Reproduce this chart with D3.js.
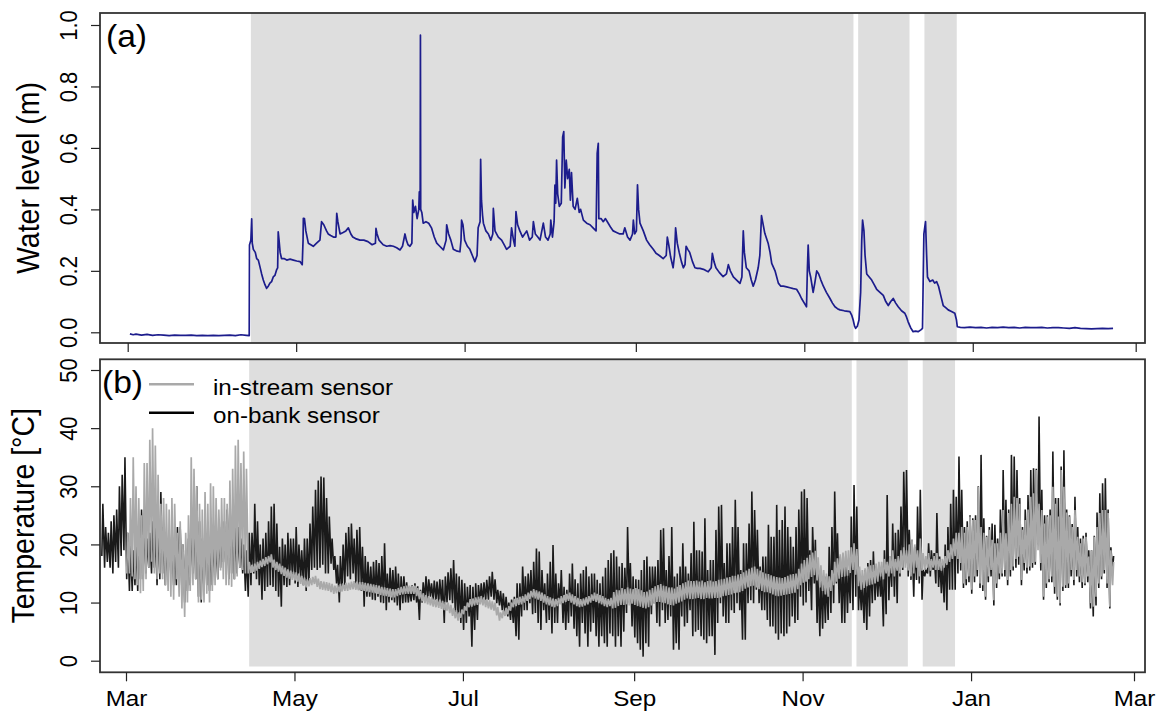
<!DOCTYPE html>
<html>
<head>
<meta charset="utf-8">
<script src="https://cdn.jsdelivr.net/npm/d3@7"></script>
<style>
  body { margin: 0; background: #fff; }
  text { font-family: "Liberation Sans", Arial, sans-serif; fill: #000; }
</style>
</head>
<body>
<div id="chart"></div>
<script>
// day numbers count from 1 March 2017 (day 0)
var monthTicks = ["2017-03-01", "2017-05-01", "2017-07-01", "2017-09-01", "2017-11-01", "2018-01-01", "2018-03-01"];
var monthLabels = ["Mar", "May", "Jul", "Sep", "Nov", "Jan", "Mar"];
var levelTicks = [0, 0.2, 0.4, 0.6, 0.8, 1.0];
var tempTicks = [0, 10, 20, 30, 40, 50];

// shaded periods (start / end day)
var shadeStart = [44.6, 264.5, 288.5];
var shadeEnd = [262.8, 283.1, 300.2];

// water level (m): [day, level]
var waterLevel = [[0.8,-0.005],[2,-0.008],[3,-0.006],[5,-0.009],[7,-0.007],[9,-0.010],[11,-0.008],[13,-0.009],[15,-0.011],[17,-0.009],
  [19,-0.010],[21,-0.010],[23,-0.009],[25,-0.011],[27,-0.010],[29,-0.011],[31,-0.010],[33,-0.011],[35,-0.010],[37,-0.009],
  [39,-0.011],[41,-0.008],[43,-0.010],[44,-0.011],[44.1,0.284],[44.6,0.30],[44.9,0.369],[45.1,0.29],[45.5,0.27],[46.2,0.26],
  [46.7,0.24],[47.3,0.235],[47.9,0.213],[48.5,0.19],[49.1,0.17],[49.7,0.155],[50.3,0.143],[50.9,0.15],[51.5,0.16],[52.1,0.165],
  [52.7,0.18],[53.3,0.185],[53.9,0.203],[54.3,0.21],[54.5,0.327],[54.8,0.30],[55.2,0.26],[55.7,0.24],[56.6,0.24],[57.6,0.235],
  [58.8,0.238],[60,0.235],[61.2,0.232],[62.4,0.23],[63.2,0.22],[63.5,0.30],[63.6,0.371],[64,0.37],[64.5,0.33],[65.4,0.29],
  [66.3,0.285],[67.2,0.28],[68.4,0.29],[69.6,0.30],[69.9,0.33],[70.2,0.36],[71,0.35],[72,0.33],[72.6,0.32],[73.5,0.315],
  [74.5,0.31],[75.4,0.31],[75.7,0.387],[76.1,0.36],[76.9,0.32],[78,0.325],[79,0.33],[79.9,0.34],[80.8,0.32],[81.5,0.31],
  [82.5,0.305],[84.1,0.30],[85.5,0.30],[87,0.295],[88.5,0.285],[89.7,0.29],[89.9,0.338],[90.3,0.32],[91,0.30],[92.5,0.285],
  [93.8,0.28],[95,0.282],[96.2,0.28],[97.4,0.275],[98.6,0.268],[99.5,0.28],[100.4,0.32],[100.9,0.30],[101.5,0.285],[102.2,0.28],
  [102.9,0.29],[103.2,0.43],[103.6,0.39],[104.2,0.41],[104.8,0.37],[105.4,0.40],[105.6,0.457],[105.9,0.40],[106.0,0.967],[106.1,0.40],
  [106.5,0.39],[107,0.355],[108,0.36],[109,0.355],[110,0.34],[111,0.31],[111.9,0.29],[113,0.28],[114.3,0.268],[115.3,0.30],
  [115.5,0.35],[116.2,0.32],[117,0.30],[117.9,0.27],[119,0.265],[120.3,0.262],[120.7,0.30],[120.9,0.365],[121.4,0.35],[122,0.30],
  [123,0.28],[123.9,0.27],[124.8,0.25],[125.7,0.23],[126.5,0.25],[126.9,0.34],[127.6,0.36],[127.8,0.563],[128.1,0.43],[128.5,0.38],
  [128.8,0.355],[129.7,0.33],[130.6,0.32],[131.5,0.30],[132.2,0.32],[132.4,0.403],[133,0.33],[134.2,0.31],[135.4,0.30],[136.3,0.285],
  [137.2,0.27],[138.5,0.28],[139,0.34],[139.7,0.30],[140.2,0.28],[140.6,0.393],[141.2,0.35],[142,0.33],[143,0.31],[144.5,0.33],
  [145.5,0.30],[146.5,0.31],[146.9,0.36],[147.6,0.32],[148.5,0.31],[149.3,0.30],[150.5,0.355],[151.3,0.31],[152.2,0.30],[153,0.32],
  [153.2,0.365],[153.8,0.31],[154.4,0.36],[154.7,0.479],[155,0.42],[155.3,0.56],[155.7,0.45],[156.3,0.41],[157,0.42],[157.5,0.636],
  [157.9,0.653],[158.3,0.47],[158.8,0.56],[159.3,0.50],[159.9,0.53],[160.3,0.43],[160.7,0.52],[161.3,0.41],[162,0.40],[162.8,0.436],
  [163.5,0.39],[164,0.40],[165,0.365],[166.2,0.355],[167.4,0.35],[168.5,0.34],[169.6,0.33],[170,0.582],[170.4,0.615],[170.6,0.37],
  [171.4,0.37],[172.2,0.36],[173,0.37],[174,0.355],[175,0.34],[175.8,0.33],[177,0.325],[178.2,0.32],[179.4,0.32],[180,0.34],
  [181,0.31],[181.9,0.30],[182.8,0.32],[183.1,0.365],[183.6,0.32],[184.2,0.33],[184.6,0.48],[185,0.40],[185.5,0.355],[186.7,0.33],
  [187.9,0.30],[189,0.285],[190.3,0.27],[191.3,0.257],[192.5,0.25],[193.9,0.24],[195,0.25],[195.4,0.31],[196,0.28],[196.6,0.245],
  [197.5,0.21],[198,0.25],[198.4,0.34],[199,0.29],[199.7,0.26],[200.5,0.23],[201.2,0.21],[201.8,0.22],[202.2,0.28],[202.8,0.27],
  [203.5,0.26],[204.5,0.23],[205.4,0.21],[206.3,0.208],[207.2,0.208],[208.5,0.205],[209.5,0.20],[210.2,0.197],[211.3,0.21],[211.7,0.257],
  [212.3,0.23],[213,0.21],[214.2,0.195],[215.6,0.181],[216.8,0.19],[217.5,0.22],[218.2,0.20],[219.3,0.18],[220.5,0.17],[221.7,0.159],
  [222.4,0.18],[222.9,0.33],[223.3,0.26],[224,0.21],[225,0.20],[225.8,0.17],[226.5,0.15],[227.3,0.17],[228.3,0.21],[228.9,0.25],
  [229.5,0.38],[229.9,0.36],[230.7,0.322],[231.9,0.29],[232.6,0.26],[233.2,0.224],[234.4,0.20],[235.6,0.16],[236.5,0.15],[237.4,0.15],
  [238.6,0.148],[239.8,0.145],[241,0.142],[242.2,0.14],[243.2,0.125],[244,0.11],[245,0.095],[245.8,0.083],[246.1,0.20],[246.4,0.284],
  [246.8,0.20],[247.3,0.18],[248.2,0.13],[248.8,0.16],[249.5,0.20],[250.2,0.19],[251,0.17],[251.9,0.15],[253,0.13],[254.3,0.11],
  [255.2,0.095],[256.1,0.083],[257,0.077],[257.9,0.073],[259.5,0.07],[261.5,0.067],[262.2,0.055],[262.7,0.04],[263.2,0.02],[263.6,0.013],
  [264.2,0.02],[264.8,0.04],[265.4,0.13],[265.8,0.30],[266.1,0.365],[266.6,0.33],[267,0.25],[267.6,0.19],[268.5,0.18],[269.4,0.17],
  [270.3,0.155],[271.2,0.14],[272.4,0.13],[273.6,0.12],[274.5,0.10],[275.4,0.087],[276.3,0.10],[277.2,0.11],[278.1,0.095],[279,0.083],
  [280.2,0.07],[281.4,0.062],[282,0.05],[282.6,0.034],[283.5,0.015],[284.4,0.002],[285.3,0.004],[286.2,0.002],[287.2,0.008],[287.8,0.013],
  [288.1,0.20],[288.3,0.32],[288.9,0.36],[289.3,0.25],[289.6,0.18],[290.5,0.165],[291.5,0.17],[292.2,0.16],[292.9,0.165],[293.6,0.15],
  [294.4,0.12],[295.3,0.087],[296.2,0.08],[297.1,0.073],[298.3,0.068],[299.5,0.062],[300.1,0.04],[300.4,0.018],[301.5,0.016],[303,0.015],
  [305,0.017],[307,0.015],[309,0.016],[311,0.014],[313,0.016],[315,0.015],[317,0.017],[319,0.015],[321,0.016],[323,0.014],
  [325,0.016],[327,0.015],[329,0.015],[331,0.016],[333,0.014],[335,0.015],[337,0.015],[339,0.014],[341,0.013],[343,0.015],
  [345,0.013],[347,0.012],[349,0.011],[351,0.012],[353,0.013],[355,0.012],[356.8,0.013]];

// on-bank sensor, daily max / min (deg C), from day -9
var bankStart = -9;
var bankHi = [27,23,22,24,25,26,30,32,35,
  22,20,19,21,23,26,25,21,22,24, 23,25,29,23,21,22,21,20,23,23, 20,19,21,25,26,30,24,21,23,22, 20,21,20,22,23,24,26,28,25,24, 23,21,20,19,22,
  22,27,24,20,21,22,24,26.5,27,23.6, 19.6,21,20,22,21,21,23,20,19,21, 21,23.6,26.5,29.4,31,31.7,31.5,28,24.8,21, 18,16.5,18,20,22,23,23.6,21,22.5,23,
  19.6,18,17,16.2,17,17.3,16.8,18,20.2,15, 16,15.6,16.2,15,14.5,14.5,13.5,12.7,13,13.3, 12.8,12.2,13.5,14.5,14,13.3,13.8,13.6,14,13.9,
  14.5,15.2,15.9,17.3,15,14.5,13.9,13.3,12.7,13, 12.7,13.3,13,13.3,13.5,13.9,14.5,15.3,14,12.2, 12,11.6,11,10,10.5,11,13.3,13.3,16.2,14.5,
  15,15.6,17,19.3,18.8,15.6,13.3,15,17,19.9, 15,13.3,15.6,12.7,12.2,15,16.7,14,13.3,15, 15.6,16.2,14.5,15,15,13.9,13.3,14.5,16,17.3,
  18.5,19,17.9,16.2,16.8,16,23,16.8,14.5,14, 13.9,15.6,17.3,17.9,16.2,16.2,16.2,17.3,22.5,22.8, 15.6,18,23,14.5,15,16.2,20.2,16.2,15,18.5,
  23.9,19,19,18.8,24.5,15.6,17.3,17.3,22.5,26.5, 26.8,16.8,20.2,20.2,23,27.7,23,15.6,20.2,20.2, 23.6,29.1,25.9,22.5,16.2,17.9,17.9,23.4,21.3,21.3,
  26.8,22.5,24.2,26.5,23,21.3,19.6,23,26,29.1, 29.5,28,19,23,20.8,15.6,14.5,14.5,14.5,19.6, 23,29.1,21.9,17.9,17.9,17.9,15.6,24.8,30.2,26.5,
  14,13.9,15.6,16.8,17.3,18.8,16.2,15.6,
  15.6,19,28.5,17.9,23.6,22,22.5,26.5,32.5,32.8, 22.5,20.8,19.6,26.5,29.4,15.6,15.6,20.2,19,18.5, 25.4,17.9,16.8,20,23,27,29.4,
  28.2,35.1,29.4,23,24,25,24.5,25,30,35.4, 24.5,21.5,23,23.6,23.4,21,26,32.8,27.7,26, 35.4,35.1,32.8,28,23,26,28.5,32.8,33.1,33,
  42,29.4,25,25,26,36,28,28,33.4,36.2, 26,25,23.5,28.2,23,21,21.5,22,19,19, 21.5,25.5,28.8,30.5,31.4,26,19.5,18];
var bankLo = [18,16,17,16,15,17,16,18,19,
  14,12,12,13,12,14,14,15,16,15, 16,13,14,15,13,14,15,13,13,14, 12,10,12,13,15,14,11,10,12,13, 12,13,15,14,16,17,15,14,15,14, 15,16,15,12,11,
  13,15,14,13,10.5,12,12.7,13,12.7,12, 11,9.3,13,12.7,13,14.5,13.3,12.7,14,13, 12,13.3,15.6,16,15.6,16,16.5,15,15,16.7, 15.6,13.3,10,12,13,14.5,14,15,13.3,12.2,
  12,9.3,11,11,10.5,10.4,11,10,9.9,8.7, 10,10.4,10,9.5,8.7,9.9,10,10,10.2,10.4, 10,7,10,10.5,10.4,11,10.5,10.4,10,9.9,
  6.5,10,10.4,9.9,8.2,7,6.5,5.3,6.5,7.6, 2.4,5.3,7,9.9,10,10.4,10.5,11,10.5,9.9, 9.5,8.7,8,7.6,7,6.5,4.2,3.6,7.6,8.7,
  8.7,9.9,8,8.2,6.5,5.3,8.7,6.5,7,4.7, 6.5,6.5,9.9,6.5,5.3,6.5,7.6,5.5,4.2,2.4, 6.5,4.7,2.4,5,6.5,4.2,2.4,4.2,3,2.4,
  4.7,4.2,2.4,4.2,2.4,5,8.2,10,5.9,4, 3,1.9,0.7,3,2.4,8,9.9,6.5,5.9,8.7, 6.5,7,7.6,1.9,3,1.9,7.6,5.9,6.5,8.7,
  4.2,5,5.3,4.2,3.6,3,4.2,4.2,1,6.5, 9.9,7.6,6.5,6.5,8.7,8.2,9.9,8.7,3.6,3.6, 9.9,10.4,9.9,12.2,9.9,8.7,8.7,7,5.9,5.9,
  4.7,3.6,4.7,4.2,4.7,5.9,7.6,6.5,7,11, 9.5,10,12,8.7,13.3,6.5,4.2,5.5,6.5,7, 8.2,9.9,13.3,9.9,6.5,6.5,8.2,9.9,8.7,11,
  8.7,8.7,6.5,5.3,7.6,9.9,10.4,11,
  11,5.9,8,10.4,12.7,11,9.9,14.5,15.6,17.9, 14.5,13.9,11,13.9,13.3,10.5,14.5,15,14.5,15.6, 13.3,12.7,11.6,10,8.7,12.2,12.2,
  12.2,15,15.5,12.5,13,13.5,11.5,13.5,14.5,12.5, 12,10.5,13.5,14.5,9.5,12.5,14,14.5,14.5,13, 14.5,15.5,16,16.5,13,15.5,15,15.5,16,16.5,
  20,15.5,10.5,12.5,13.5,13.5,11.5,10.5,9.5,12, 12.5,12.5,14.5,13,14.5,13.5,12.5,13,13.5,9, 7.6,9.5,12.5,14,15,12.5,9,15.5];

// in-stream sensor, daily max / min (deg C), from day 0
var streamStart = 0;
var streamHi = [22,28,35,30,28,25,34,34,38,40, 37,32,27,28,27,26,28,27,22,24, 20,22,25,35,33,30,27,26,29,27, 30.5,30,28,26,28,28,27,31,33,37, 38,34,36,33,17,
  16.5,16.7,17,17.2,17.5,17.8,18,18.3,17.4,17, 16.7,16.3,16,15.7,15.5,15.3,15.2,15,14.6,14.3, 14,14.2,14.4,14.6,14.1,13.7,13.6,13.5,13.4,13.2,
  12.9,13,13.2,13.3,13.4,13.4,13.6,13.7,13.6,13.5, 13.5,13.4,13.3,13.2,13.1,13,12.9,12.7,12.6,12.5, 12.4,12.3,12.3,12.5,12.7,12.8,12.9,12.9,12.9,12.9,
  12.5,12,11.6,11.3,11.1,10.9,10.7,10.6,10.5,10.3, 10.1,10,9.6,9.1,8.7,8.3,8.8,9.4,10,10.6, 10.7,10.9,11,11.1,10.9,10.6,10.4,10.2,10,9.2,
  8.3,8.7,9.1,9.4,10,10.6,10.8,11,11.1,11.4, 11.7,12,12.3,12.1,11.9,11.7,11.4,11.1,10.9,10.7, 10.6,10.8,11.1,11.3,11.5,11.7,11.4,11.1,10.8,10.6,
  10.7,10.9,11.1,11.4,11.7,11.5,11.3,11.1,10.8,10.6, 10.8,
  11.8,12.2,12.1,12.5,12.3,12.6,12.4,12.3,12.5, 12.3,12.1,11.8,11.9,12.2,12.5,12.8,13,13.2,12.9, 12.8,12.6,12.6,12.4,12.7,13,13.3,13.5,13.8,13.7,
  13.7,13.8,13.6,13.8,13.5,13.7,13.8,13.6,13.7,13.9, 14,14.1,14.3,14.4,14.6,14.6,14.8,14.9,15.2,15.5, 15.8,16,16.2,15.8,15.5,15.2,15,14.9,14.7,14.5,
  14.4,14.3,14.2,14.4,14.6,14.8,14.9,15,15.8,16.7, 17.3,17.7,18.2,18.6,18.9,17.8,16.4,15.6,15,14.5, 15.6,17,17.6,18.3,18.6,18.9,19,19.5,20.2,19.2,
  16.2,15.6,15.9,16.2,16.4,16.5,16.7,17,
  17,17.5,17,18,19,17.5,18,19,19.5,19, 20,20.8,20,19,21,18.5,18,18.5,17.5,18, 18.5,17.5,17.5,18,19,20,21,22,
  22,23,22,23,24.8,24.2,24.2,29.9,23,22, 21.3,22.5,20.8,20.2,20.2,22,25.9,21.9,25.4,27, 28.2,28,27,22.5,24.2,26,28.2,28.8,32.8,27,
  25.9,23.6,24.8,25,29.9,27,24.8,32.8,29.9,25.5, 24.8,23,25.9,21.3,20.2,21,21.3,17.9,19,21.3, 23,25.4,25.9,25.9,25.4,19,17];
var streamLo = [15,15,14.5,14,13,11.6,12,14,16,17, 15,14,15,14,13,12,11,10.5,14,11, 9,7.5,10,12,13,14,10,10.5,10,11.5, 10,12,13,14,15.5,14,13,13,12.7,14, 14.5,16,15.6,15,15,
  15.1,15.3,15.5,15.8,16.1,16.3,16.6,16.9,16,15.6, 15.3,14.9,14.6,14.3,14.1,13.9,13.8,13.6,13.2,12.9, 12.6,12.8,13,13.2,12.7,12.3,12.2,12.1,12,11.8,
  11.5,11.6,11.8,11.9,12,12,12.2,12.3,12.2,12.1, 12.1,12,11.9,11.8,11.7,11.6,11.5,11.3,11.2,11.1, 11,10.9,10.9,11.1,11.3,11.4,11.5,11.5,11.5,11.5,
  11.1,10.6,10.2,9.9,9.7,9.5,9.3,9.2,9.1,8.9, 8.7,8.6,8.2,7.7,7.3,6.9,7.4,8,8.6,9.2, 9.3,9.5,9.6,9.7,9.5,9.2,9,8.8,8.6,7.8,
  6.9,7.3,7.7,8,8.6,9.2,9.4,9.6,9.7,10, 10.3,10.6,10.9,10.7,10.5,10.3,10,9.7,9.5,9.3, 9.2,9.4,9.7,9.9,10.1,10.3,10,9.7,9.4,9.2,
  9.3,9.5,9.7,10,10.3,10.1,9.9,9.7,9.4,9.2, 9.4,
  9,9.1,9.4,9.6,9.6,9.7,9.5,9.8,9.6, 9.4,9.3,9.1,9,9.2,9.5,9.8,10.1,10.1,10, 9.9,9.7,9.6,9.5,9.8,10,10.2,10.5,10.7,10.6,
  10.6,10.7,10.8,10.6,10.6,10.8,10.7,10.7,10.8,10.8, 10.9,11.1,11.2,11.3,11.4,11.6,11.7,11.8,12,12.4, 12.6,12.8,12.9,12.6,12.3,12,11.8,11.8,11.6,11.4,
  11.2,11.1,11.2,11.3,11.4,11.5,11.6,11.7,12.3,13, 13.4,13.6,14,14.4,14.7,13.8,12.6,12,11.4,11, 12,13,13.6,14.1,14.4,14.5,14.6,15.1,15.6,14.8,
  12.8,12.2,12.5,12.8,13,13.1,13.3,13.6,
  14.5,14,15,14.5,15,14.5,15.5,15,16,16, 15.5,14.5,15,16,14.5,15.5,15.6,16,15.5,16, 15.6,15.6,15.5,16,16.5,17,17.5,18,
  17.5,16.8,13.3,14,14.5,12.2,14.5,15.6,13.3,13, 11,14.5,15.6,10.4,13.3,15,15,15.6,13.9,15.6, 16.2,17.5,17.9,13.9,16.8,16,16.2,16.8,17,19,
  16.8,11,13.3,14,14.5,12.7,11,9.9,12.7,13, 13.3,15.6,13.9,15.6,14.5,13.5,13.3,14.5,9.9,9.3, 11,13.3,14.5,15.6,13.3,9.3,13];

// ---------------------------------------------------------------
var W = 1161, H = 713;
var plotL = 100, plotR = 1145;
var top1 = 13, bot1 = 343;
var top2 = 359.3, bot2 = 672.3;
var stretch = 1.1;   // the original picture is a little wider than tall

var base = Date.UTC(2017, 2, 1);
function toDate(d) { return new Date(base + d * 864e5); }
var tickDates = monthTicks.map(function(s) { return new Date(s + "T00:00:00Z"); });

var xTop = d3.scaleUtc().domain([toDate(0), toDate(365)]).range([127.7, 1135.7]);
var xBot = d3.scaleUtc().domain([toDate(0), toDate(365)]).range([126, 1134]);
var yTop = d3.scaleLinear().domain([0, 1]).range([332.3, 25]);
var yBot = d3.scaleLinear().domain([0, 50]).range([660.7, 370]);

var svg = d3.select("#chart").append("svg")
    .attr("width", W)
    .attr("height", H);

var defs = svg.append("defs");
defs.append("clipPath").attr("id", "clipTop")
  .append("rect").attr("x", plotL).attr("y", top1).attr("width", plotR - plotL).attr("height", bot1 - top1);
defs.append("clipPath").attr("id", "clipBot")
  .append("rect").attr("x", plotL).attr("y", top2).attr("width", plotR - plotL).attr("height", bot2 - top2);

// shaded periods
var shades = shadeStart.map(function(s, i) { return {s: s, e: shadeEnd[i]}; });
svg.append("g").attr("clip-path", "url(#clipTop)")
  .selectAll("rect").data(shades).enter().append("rect")
    .attr("x", function(d) { return xTop(toDate(d.s)); })
    .attr("width", function(d) { return xTop(toDate(d.e)) - xTop(toDate(d.s)); })
    .attr("y", top1)
    .attr("height", bot1 - top1)
    .attr("fill", "#dedede");
svg.append("g").attr("clip-path", "url(#clipBot)")
  .selectAll("rect").data(shades).enter().append("rect")
    .attr("x", function(d) { return xBot(toDate(d.s)); })
    .attr("width", function(d) { return xBot(toDate(d.e)) - xBot(toDate(d.s)); })
    .attr("y", top2)
    .attr("height", yBot(-1) - top2)
    .attr("fill", "#dedede");

// water level
var levelLine = d3.line()
  .x(function(d) { return xTop(toDate(d[0])); })
  .y(function(d) { return yTop(d[1]); });
svg.append("path")
  .datum(waterLevel)
  .attr("clip-path", "url(#clipTop)")
  .attr("d", levelLine)
  .attr("fill", "none")
  .attr("stroke", "#1c1c8c")
  .attr("stroke-width", 1.7)
  .attr("stroke-linejoin", "round");

// temperature: each day goes min (morning) -> max (afternoon)
function dailyPoints(start, hi, lo) {
  var pts = [];
  hi.forEach(function(h, i) {
    pts.push([start + i + 0.25, lo[i]]);
    pts.push([start + i + 0.62, h]);
  });
  return pts;
}
var tempLine = d3.line()
  .x(function(d) { return xBot(toDate(d[0])); })
  .y(function(d) { return yBot(d[1]); });

svg.append("path")
  .datum(dailyPoints(bankStart, bankHi, bankLo))
  .attr("clip-path", "url(#clipBot)")
  .attr("d", tempLine)
  .attr("fill", "none")
  .attr("stroke", "#1a1a1a")
  .attr("stroke-width", 1.6);

svg.append("path")
  .datum(dailyPoints(streamStart, streamHi, streamLo))
  .attr("clip-path", "url(#clipBot)")
  .attr("d", tempLine)
  .attr("fill", "none")
  .attr("stroke", "#a9a9a9")
  .attr("stroke-width", 1.7);

// boxes
[[top1, bot1], [top2, bot2]].forEach(function(p) {
  svg.append("rect")
    .attr("x", plotL).attr("y", p[0])
    .attr("width", plotR - plotL).attr("height", p[1] - p[0])
    .attr("fill", "none")
    .attr("stroke", "#333")
    .attr("stroke-width", 1.8);
});

// x axes
var gxTop = svg.append("g")
  .attr("transform", "translate(0," + bot1 + ")")
  .call(d3.axisBottom(xTop).tickValues(tickDates).tickFormat("").tickSize(9).tickSizeOuter(0));
var gxBot = svg.append("g")
  .attr("transform", "translate(0," + bot2 + ")")
  .call(d3.axisBottom(xBot).tickValues(tickDates)
    .tickFormat(function(d, i) { return monthLabels[i]; }).tickSize(9).tickSizeOuter(0));
gxBot.selectAll("text")
  .attr("y", 34)
  .attr("dy", null)
  .attr("transform", "scale(" + stretch + ",1)")
  .style("font-size", "22px");

// y axes
var gyTop = svg.append("g")
  .attr("transform", "translate(" + plotL + ",0)")
  .call(d3.axisLeft(yTop).tickValues(levelTicks).tickFormat(d3.format(".1f")).tickSize(9).tickSizeOuter(0));
var gyBot = svg.append("g")
  .attr("transform", "translate(" + plotL + ",0)")
  .call(d3.axisLeft(yBot).tickValues(tempTicks).tickFormat(d3.format("d")).tickSize(9).tickSizeOuter(0));
[gyTop, gyBot].forEach(function(g) {
  g.selectAll("text")
    .attr("x", null)
    .attr("dy", null)
    .attr("text-anchor", "middle")
    .attr("transform", "translate(-23,0) scale(" + stretch + ",1) rotate(-90)")
    .style("font-size", "22px");
});
[gxTop, gxBot, gyTop, gyBot].forEach(function(g) {
  g.select(".domain").remove();
  g.selectAll("line").attr("stroke", "#222").attr("stroke-width", 1.2);
});

// axis titles
svg.append("text")
  .attr("transform", "translate(39,178) scale(" + stretch + ",1) rotate(-90)")
  .attr("text-anchor", "middle")
  .style("font-size", "28.5px")
  .text("Water level (m)");
svg.append("text")
  .attr("transform", "translate(34,515.8) scale(" + stretch + ",1) rotate(-90)")
  .attr("text-anchor", "middle")
  .style("font-size", "28.5px")
  .text("Temperature [°C]");

// panel letters
svg.append("text")
  .attr("transform", "translate(106,47) scale(1.05,1)")
  .style("font-size", "32px")
  .text("(a)");
svg.append("text")
  .attr("transform", "translate(102,393) scale(1.05,1)")
  .style("font-size", "32px")
  .text("(b)");

// legend
var legendNames = ["in-stream sensor", "on-bank sensor"];
var legendColors = ["#a9a9a9", "#000"];
var lg = svg.append("g").selectAll("g").data(legendNames).enter().append("g")
  .attr("transform", function(d, i) { return "translate(0," + (384.3 + i * 28.4) + ")"; });
lg.append("line")
  .attr("x1", 149).attr("x2", 194)
  .attr("stroke", function(d, i) { return legendColors[i]; })
  .attr("stroke-width", 2.6);
lg.append("text")
  .attr("transform", "translate(213,10.5) scale(" + stretch + ",1)")
  .style("font-size", "22px")
  .text(function(d) { return d; });
</script>
</body>
</html>
